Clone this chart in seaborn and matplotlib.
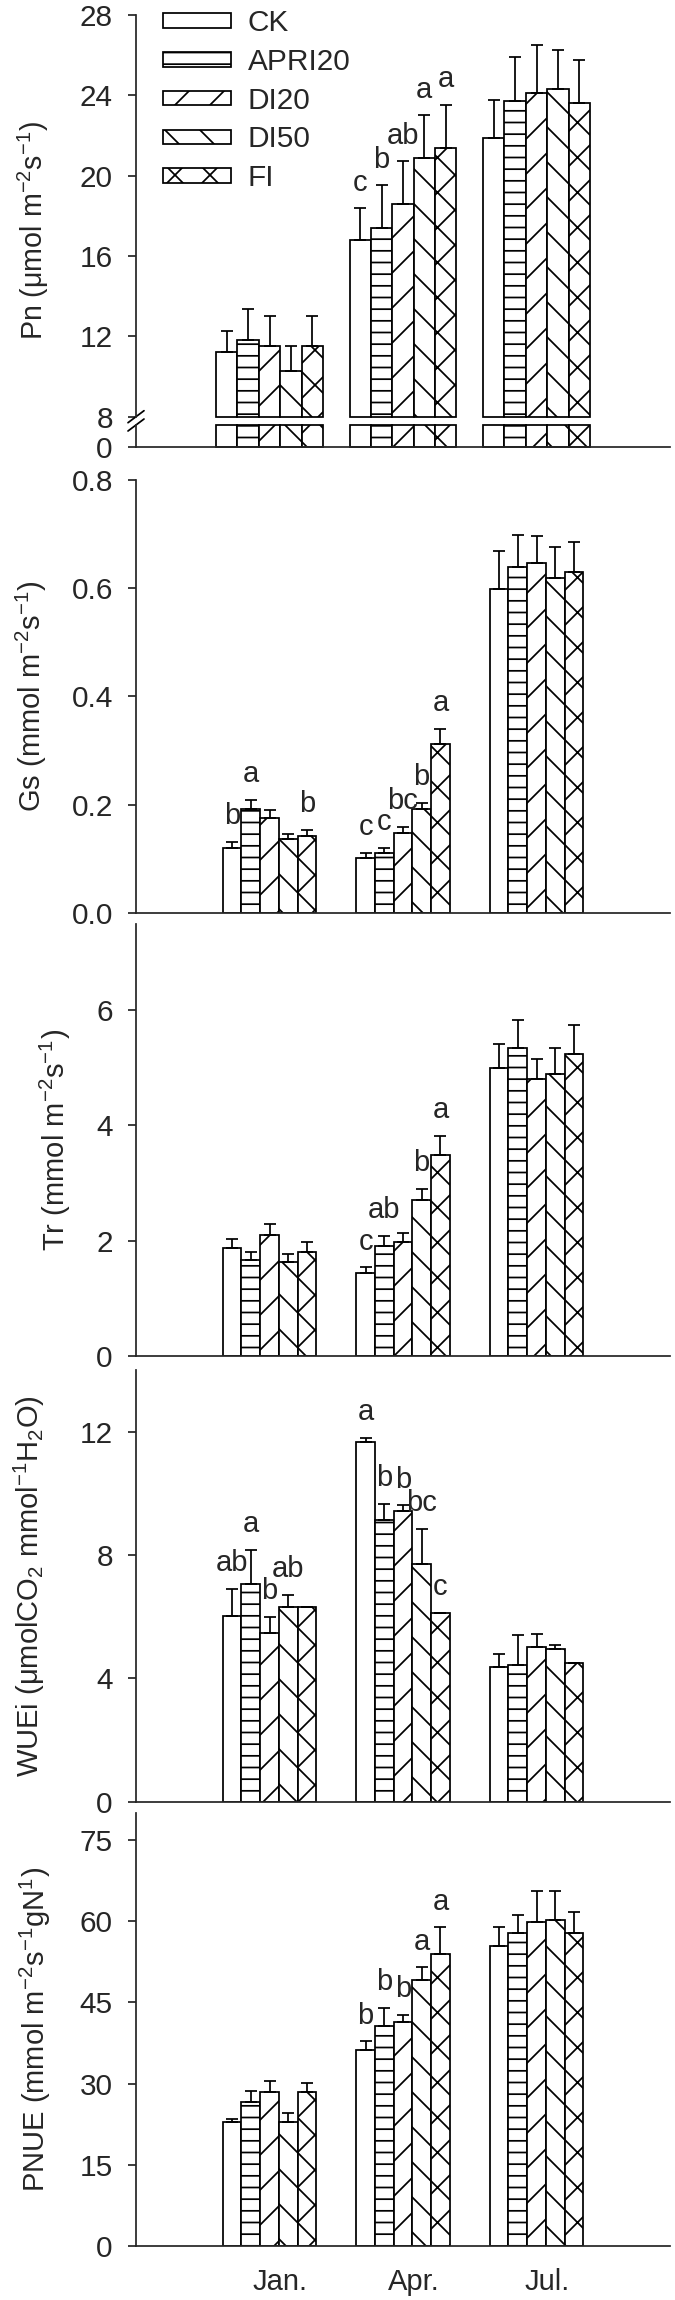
import numpy as np
import pandas as pd
import matplotlib
matplotlib.use("Agg")
import matplotlib.pyplot as plt
from matplotlib.ticker import FormatStrFormatter
from matplotlib.transforms import ScaledTranslation, blended_transform_factory
import seaborn as sns

# --- данные (строки: CK, APRI20, DI20, DI50, FI; столбцы: Jan., Apr., Jul.) ---
months = ["Jan.", "Apr.", "Jul."]
treatments = ["CK", "APRI20", "DI20", "DI50", "FI"]
hatches = ["", "---", "//", "\\\\", "xx"]

pn_mean = [[11.2, 16.8, 21.9], [11.8, 17.4, 23.7], [11.5, 18.6, 24.1], [10.3, 20.9, 24.3], [11.5, 21.4, 23.6]]
pn_err = [[1.08, 1.59, 1.89], [1.58, 2.12, 2.19], [1.49, 2.11, 2.40], [1.20, 2.10, 1.96], [1.49, 2.13, 2.14]]
pn_letters = [["", "c", ""], ["", "b", ""], ["", "ab", ""], ["", "a", ""], ["", "a", ""]]

gs_mean = [[0.120, 0.102, 0.599], [0.191, 0.111, 0.639], [0.176, 0.148, 0.646], [0.136, 0.191, 0.619], [0.141, 0.311, 0.629]]
gs_err = [[0.011, 0.009, 0.070], [0.018, 0.009, 0.060], [0.014, 0.011, 0.050], [0.009, 0.012, 0.057], [0.012, 0.029, 0.056]]
gs_letters = [["b", "c", ""], ["a", "c", ""], ["", "bc", ""], ["", "b", ""], ["b", "a", ""]]

tr_mean = [[1.87, 1.44, 4.99], [1.66, 1.91, 5.34], [2.10, 1.97, 4.80], [1.62, 2.70, 4.90], [1.81, 3.49, 5.24]]
tr_err = [[0.15, 0.10, 0.43], [0.15, 0.17, 0.50], [0.19, 0.17, 0.36], [0.15, 0.20, 0.44], [0.17, 0.33, 0.50]]
tr_letters = [["", "c", ""], ["", "ab", ""], ["", "", ""], ["", "b", ""], ["", "a", ""]]

wue_mean = [[6.01, 11.67, 4.37], [7.06, 9.13, 4.44], [5.47, 9.42, 5.01], [6.31, 7.72, 4.95], [6.31, 6.12, 4.49]]
wue_err = [[0.89, 0.13, 0.43], [1.11, 0.53, 0.97], [0.52, 0.19, 0.43], [0.40, 1.13, 0.14], [0.0, 0.0, 0.0]]
wue_letters = [["ab", "a", ""], ["a", "b", ""], ["b", "b", ""], ["ab", "bc", ""], ["", "c", ""]]

pnue_mean = [[22.9, 36.2, 55.5], [26.6, 40.7, 57.9], [28.4, 41.3, 59.8], [22.9, 49.2, 60.2], [28.4, 54.0, 57.8]]
pnue_err = [[0.6, 1.6, 3.4], [2.0, 3.3, 3.3], [2.0, 1.4, 5.9], [1.7, 2.3, 5.5], [1.7, 4.9, 3.9]]
pnue_letters = [["", "b", ""], ["", "b", ""], ["", "b", ""], ["", "a", ""], ["", "a", ""]]

# --- оформление ---
sns.set_style("ticks")
plt.rcParams["font.family"] = ["Liberation Sans", "DejaVu Sans"]
plt.rcParams["mathtext.fontset"] = "custom"
plt.rcParams["mathtext.rm"] = "Liberation Sans"
plt.rcParams["mathtext.it"] = "Liberation Sans:italic"
plt.rcParams["mathtext.bf"] = "Liberation Sans:bold"
plt.rcParams["hatch.linewidth"] = 0.6
plt.rcParams["hatch.color"] = "black"

DPI = 210
W, H = 675, 2300
LEFT, RIGHT = 136, 670
LW = 0.6
TICK_FS = 10.2
fig = plt.figure(figsize=(W / DPI, H / DPI), dpi=DPI)


def add_axes(top, bottom):
    return fig.add_axes([LEFT / W, 1 - bottom / H, (RIGHT - LEFT) / W, (bottom - top) / H])


def bars(ax, mean, width):
    df = pd.DataFrame({
        "month": np.tile(months, len(treatments)),
        "treatment": np.repeat(treatments, len(months)),
        "value": np.ravel(mean),
    })
    sns.barplot(data=df, x="month", y="value", hue="treatment", order=months,
                hue_order=treatments, palette=["white"] * len(treatments), saturation=1,
                width=width, edgecolor="black", linewidth=LW, errorbar=None,
                legend=False, ax=ax)
    conts = list(ax.containers)
    for cont, hatch in zip(conts, hatches):
        for p in cont:
            p.set_hatch(hatch)
    return conts


def errs(ax, conts, mean, err, letters):
    for cont, m, e, lab in zip(conts, mean, err, letters):
        xs = [p.get_x() + p.get_width() / 2 for p in cont]
        ax.errorbar(xs, m, yerr=[np.zeros(len(m)), e], fmt="none", ecolor="black",
                    elinewidth=LW, capsize=2.1, capthick=LW)
        for x, mm, ee, t in zip(xs, m, e, lab):
            if t:
                ax.annotate(t, (x, mm + ee), xytext=(0, 6.0), textcoords="offset points",
                            ha="center", va="baseline", fontsize=10)


def style(ax, ylim, yticks):
    ax.set_xlim(-1, 3)
    ax.set_ylim(*ylim)
    ax.set_yticks(yticks)
    ax.spines[["top", "right"]].set_visible(False)
    ax.spines[["left", "bottom"]].set_linewidth(LW)
    ax.tick_params(axis="y", direction="out", length=2.85, width=LW, labelsize=TICK_FS, pad=5.1)
    ax.tick_params(axis="x", length=0, labelbottom=False)
    ax.set_xlabel("")
    ax.set_ylabel("")


def ylabel(ax, text, xpx, yfrac=0.5, fs=10.0):
    ax.set_ylabel(text, fontsize=fs, va="baseline")
    ax.yaxis.set_label_coords((xpx - LEFT) / (RIGHT - LEFT), yfrac)


# --- Pn (разрыв оси) ---
ax_up = add_axes(15, 416.7)
ax_lo = add_axes(425, 446.7)
brk = 21.7 / 20.07

conts = bars(ax_up, pn_mean, 0.8)
for cont in conts:
    for p in cont:
        h = p.get_height()
        p.set_y(8)
        p.set_height(h - 8)
        p.set_clip_on(False)
errs(ax_up, conts, pn_mean, pn_err, pn_letters)
style(ax_up, (8, 28), [8, 12, 16, 20, 24, 28])
ax_up.spines["bottom"].set_visible(False)
ylabel(ax_up, "Pn (μmol m$^{-2}$s$^{-1}$)", 43.3, (416.7 - 230.8) / 401.7, fs=9.8)

ax_up.legend(conts, treatments, loc="upper left", bbox_to_anchor=(0.05, 1.0142),
             frameon=False, fontsize=10.2, handlelength=2.29, handleheight=0.37,
             handletextpad=0.57, labelspacing=0.36, borderaxespad=0, borderpad=0)

conts_lo = bars(ax_lo, pn_mean, 0.8)
for cont in conts_lo:
    for p in cont:
        p.set_height(min(p.get_height(), brk))
        p.set_clip_on(False)
style(ax_lo, (0, brk), [0])

# значки разрыва //
dx, dy = 8 / (RIGHT - LEFT), 6 / 401.7
ax_up.plot([-dx, dx], [-dy, dy], transform=ax_up.transAxes, color="black", lw=LW, clip_on=False)
dy_lo = 6 / 21.7
ax_lo.plot([-dx, dx], [1 - dy_lo, 1 + dy_lo], transform=ax_lo.transAxes, color="black", lw=LW, clip_on=False)

# --- Gs ---
ax = add_axes(480, 912.7)
conts = bars(ax, gs_mean, 0.7)
errs(ax, conts, gs_mean, gs_err, gs_letters)
style(ax, (0, 0.8), [0, 0.2, 0.4, 0.6, 0.8])
ax.yaxis.set_major_formatter(FormatStrFormatter("%.1f"))
ylabel(ax, "Gs (mmol m$^{-2}$s$^{-1}$)", 41)

# --- Tr ---
ax = add_axes(924, 1355.7)
conts = bars(ax, tr_mean, 0.7)
errs(ax, conts, tr_mean, tr_err, tr_letters)
style(ax, (0, 7.5), [0, 2, 4, 6])
ylabel(ax, "Tr (mmol m$^{-2}$s$^{-1}$)", 65)

# --- WUEi ---
ax = add_axes(1370, 1801.7)
conts = bars(ax, wue_mean, 0.7)
errs(ax, conts, wue_mean, wue_err, wue_letters)
style(ax, (0, 14), [0, 4, 8, 12])
ylabel(ax, "WUEi (μmolCO$_{2}$ mmol$^{-1}$H$_{2}$O)", 39)

# --- PNUE ---
ax = add_axes(1813.3, 2245.7)
conts = bars(ax, pnue_mean, 0.7)
errs(ax, conts, pnue_mean, pnue_err, pnue_letters)
style(ax, (0, 80), [0, 15, 30, 45, 60, 75])
ylabel(ax, "PNUE (mmol m$^{-2}$s$^{-1}$gN$^{1}$)", 45.5)

# подписи месяцев (чуть правее центра группы, как в оригинале)
trans = blended_transform_factory(ax.transData, ax.transAxes) + \
    ScaledTranslation(11 / DPI, -22 / DPI, fig.dpi_scale_trans)
for i, m in enumerate(months):
    ax.text(i, 0, m, transform=trans, ha="center", va="top", fontsize=10)

fig.savefig("out.png", dpi=DPI)
